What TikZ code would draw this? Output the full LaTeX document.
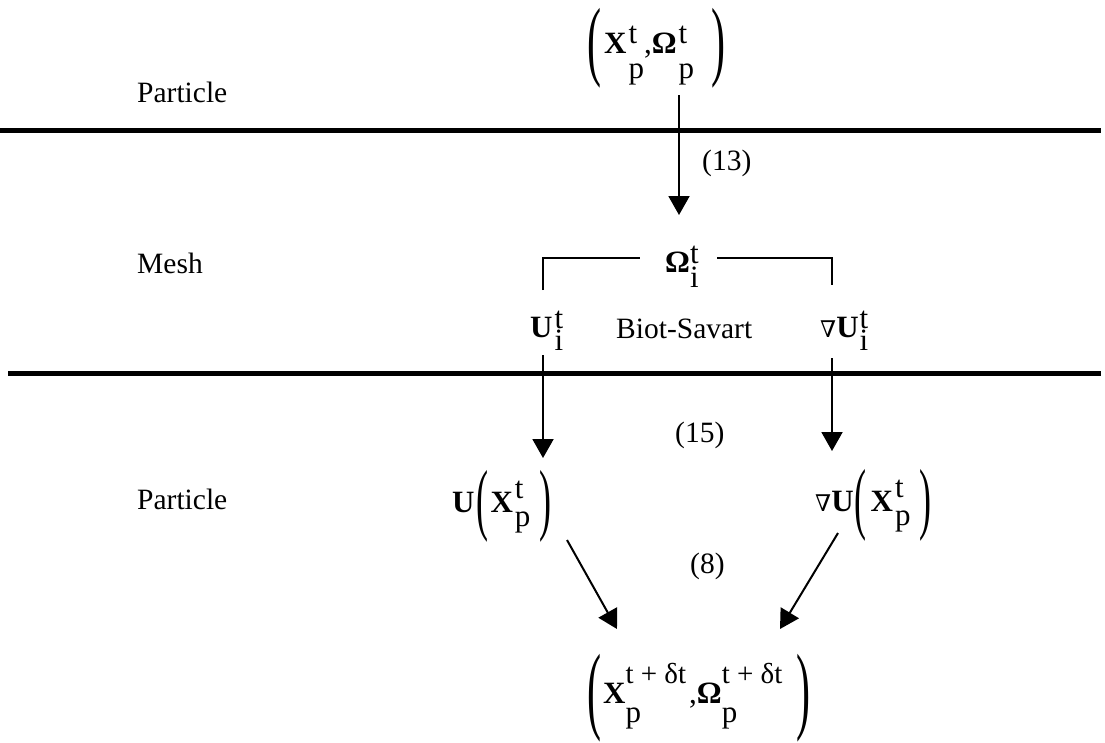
\documentclass[tikz,border=0pt]{standalone}
\usepackage{fontspec}
\setmainfont{Liberation Serif}
\newfontfamily\dvs{DejaVu Serif}
\usetikzlibrary{arrows.meta}
\newcommand\fm{\fontsize{31}{36}\selectfont}
\newcommand\fsx{\fontsize{31}{35}\selectfont}
\newcommand\fsy{\fontsize{29}{33}\selectfont}
\newcommand\fl{\fontsize{29.5}{34}\selectfont}
\newcommand\nab{{\dvs\fontsize{23}{26}\selectfont ∇}}
\newcommand\stk[4]{\setbox0\hbox{\raisebox{#1}{\fsx #3}}\setbox2\hbox{\raisebox{-#2}{\fsx #4}}\ifdim\wd0>\wd2 \hbox{\rlap{\box2}\box0}\else\hbox{\rlap{\box0}\box2}\fi}
\newcommand\stkw[4]{\setbox0\hbox{\raisebox{#1}{\fsy #3}}\setbox2\hbox{\raisebox{-#2}{\fsx #4}}\hbox{\rlap{\box2}\box0}}
\newcommand\BP[4]{\raisebox{-#3}{\resizebox{#1}{#2}{\raisebox{\depth}{#4}}}}
\tikzset{
  lbl/.style={anchor=base west, inner sep=0pt, font=\fl},
  fml/.style={anchor=base west, inner sep=0pt, font=\fm},
  sep/.style={line width=5pt},
  brk/.style={line width=2pt},
  arr/.style={line width=2pt, -{Triangle[width=21pt,length=19pt]}},
}
\begin{document}
\begin{tikzpicture}[x=1pt,y=-1pt]
\useasboundingbox (0,0) rectangle (1105,742);
% layer labels
\node[lbl] (lp1) at (137,102) {Particle};
\node[lbl] (lm) at (137,273) {Mesh};
\node[lbl] (lp2) at (137,509) {Particle};
% separators
\draw[sep] (0,130) -- (1101,130);
\draw[sep] (8,373) -- (1101,373);
% formulas
\node[fml] (top) at (587,53) {\BP{14pt}{80pt}{35pt}{(}\hspace{3pt}\textbf{X}\hspace{2pt}\stk{10pt}{25pt}{t}{p},\textbf{Ω}\hspace{2pt}\stk{10pt}{25pt}{t}{p}\hspace{17pt}\BP{14pt}{80pt}{35pt}{)}};
\node[fml] (om) at (665,272) {\textbf{Ω}\stk{9pt}{15pt}{t}{i}};
\node[fml] (ui) at (530,337) {\textbf{U}\hspace{2pt}\stk{9pt}{13pt}{t}{i}};
\node[fml] (gui) at (820,337) {\nab\textbf{U}\hspace{1pt}\stk{9pt}{13pt}{t}{i}};
\node[fml] (ux) at (452,512) {\textbf{U}\hspace{2pt}\BP{12pt}{72pt}{30pt}{(}\hspace{2pt}\textbf{X}\hspace{2pt}\stk{14pt}{14pt}{t}{p}\hspace{9pt}\BP{12pt}{72pt}{30pt}{)}};
\node[fml] (gux) at (815,511) {\nab\textbf{U}\hspace{1pt}\BP{12pt}{72pt}{30pt}{(}\hspace{4pt}\textbf{X}\hspace{2pt}\stk{14pt}{14pt}{t}{p}\hspace{9pt}\BP{12pt}{72pt}{30pt}{)}};
\node[fml] (bot) at (587,703) {\BP{14pt}{88pt}{39pt}{(}\hspace{2pt}\textbf{X}\stkw{20pt}{19pt}{t + δt}{p}\hspace{3pt},\textbf{Ω}\stkw{20pt}{19pt}{t + δt}{p}\hspace{14pt}\BP{14pt}{88pt}{39pt}{)}};
% equation labels
\node[lbl] (e13) at (702,170) {(13)};
\node[lbl] (bs) at (616,338) {Biot-Savart};
\node[lbl] (e15) at (675,442) {(15)};
\node[lbl] (e8) at (690,573) {(8)};
% connector end points
\coordinate (a1s) at (679,95);
\coordinate (a1e) at (679,215);
\coordinate (bl) at (543,290);
\coordinate (bm1) at (640,258);
\coordinate (bm2) at (717,258);
\coordinate (br) at (832,285);
\coordinate (a2s) at (543,355);
\coordinate (a2e) at (543,458);
\coordinate (a3s) at (832,358);
\coordinate (a3e) at (832,451);
\coordinate (a4s) at (567,540);
\coordinate (a4e) at (617,629);
\coordinate (a5s) at (838,533);
\coordinate (a5e) at (780,629);
% connectors
\draw[arr] (a1s) -- (a1e);
\draw[brk] (bl) |- (bm1);
\draw[brk] (bm2) -| (br);
\draw[arr] (a2s) -- (a2e);
\draw[arr] (a3s) -- (a3e);
\draw[arr] (a4s) -- (a4e);
\draw[arr] (a5s) -- (a5e);
\end{tikzpicture}
\end{document}
